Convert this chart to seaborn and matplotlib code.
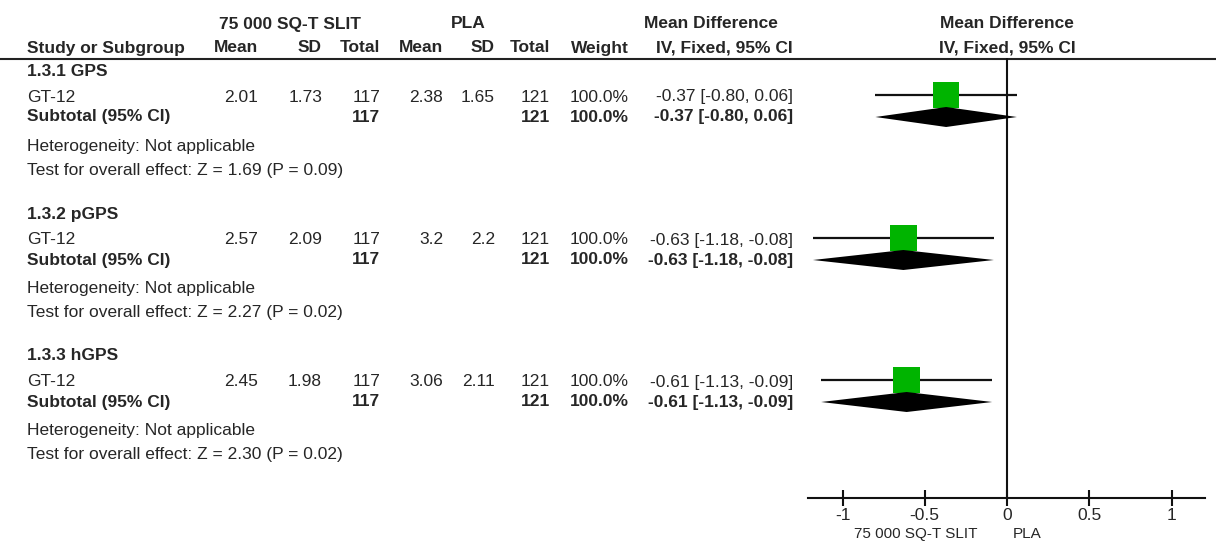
import matplotlib
matplotlib.use("Agg")
import matplotlib.pyplot as plt
import seaborn as sns
import pandas as pd

# ---------------- data ----------------
groups = ["1.3.1 GPS", "1.3.2 pGPS", "1.3.3 hGPS"]
studies = ["GT-12", "GT-12", "GT-12"]
t_mean = [2.01, 2.57, 2.45]
t_sd = [1.73, 2.09, 1.98]
t_total = [117, 117, 117]
c_mean = [2.38, 3.2, 3.06]
c_sd = [1.65, 2.2, 2.11]
c_total = [121, 121, 121]
weight = [100.0, 100.0, 100.0]
md = [-0.37, -0.63, -0.61]
ci_lo = [-0.80, -1.18, -1.13]
ci_hi = [0.06, -0.08, -0.09]
z_vals = [1.69, 2.27, 2.30]
p_vals = [0.09, 0.02, 0.02]
ticks = [-1, -0.5, 0, 0.5, 1]
tick_labels = ["-1", "-0.5", "0", "0.5", "1"]
treat_name = "75 000 SQ-T SLIT"
ctrl_name = "PLA"

# ---------------- layout ----------------
W, H = 1216, 545
FS = 12.5
TXT = "#262626"
GREEN = "#00B400"
FONT = ["Liberation Sans", "DejaVu Sans"]

sns.set_theme(style="white")
plt.rcParams["font.family"] = FONT

fig = plt.figure(figsize=(W / 100, H / 100), dpi=100)
tax = fig.add_axes([0, 0, 1, 1])
tax.set_xlim(0, W)
tax.set_ylim(H, 0)
tax.axis("off")

def t(x, y, s, ha="left", bold=False, size=FS, **kw):
    tax.text(x, y, s, ha=ha, va="center", fontsize=size, color=TXT,
             fontweight="bold" if bold else "normal", **kw)

# header
y1, y2 = 24, 48
t(290, y1, treat_name, ha="center", bold=True)
t(468, y1, ctrl_name, ha="center", bold=True)
t(711, y1, "Mean Difference", ha="center", bold=True)
t(1007, y1, "Mean Difference", ha="center", bold=True)
t(27, y2, "Study or Subgroup", bold=True)
col_r = {"tm": 258, "tsd": 322, "tt": 380, "cm": 443, "csd": 495,
         "ct": 550, "w": 629, "ci": 793}
t(col_r["tm"], y2, "Mean", ha="right", bold=True)
t(col_r["tsd"], y2, "SD", ha="right", bold=True)
t(col_r["tt"], y2, "Total", ha="right", bold=True)
t(col_r["cm"], y2, "Mean", ha="right", bold=True)
t(col_r["csd"], y2, "SD", ha="right", bold=True)
t(col_r["ct"], y2, "Total", ha="right", bold=True)
t(col_r["w"], y2, "Weight", ha="right", bold=True)
t(col_r["ci"], y2, "IV, Fixed, 95% CI", ha="right", bold=True)
t(1007, y2, "IV, Fixed, 95% CI", ha="center", bold=True)
tax.axhline(59, color="#222222", lw=1.5)

offsets = [0, 143, 285]
study_y, sub_y = [], []
for i, off in enumerate(offsets):
    yg, ys, ysub, yh, yt = 71 + off, 97 + off, 117 + off, 146 + off, 170 + off
    study_y.append(95 + off)
    sub_y.append(117 + off)
    ci_txt = f"{md[i]:.2f} [{ci_lo[i]:.2f}, {ci_hi[i]:.2f}]"
    t(27, yg, groups[i], bold=True)
    t(27, ys, studies[i])
    t(col_r["tm"], ys, f"{t_mean[i]:g}", ha="right")
    t(col_r["tsd"], ys, f"{t_sd[i]:g}", ha="right")
    t(col_r["tt"], ys, f"{t_total[i]}", ha="right")
    t(col_r["cm"], ys, f"{c_mean[i]:g}", ha="right")
    t(col_r["csd"], ys, f"{c_sd[i]:g}", ha="right")
    t(col_r["ct"], ys, f"{c_total[i]}", ha="right")
    t(col_r["w"], ys, f"{weight[i]:.1f}%", ha="right")
    t(col_r["ci"], ys, ci_txt, ha="right")
    t(27, ysub, "Subtotal (95% CI)", bold=True)
    t(col_r["tt"], ysub, f"{t_total[i]}", ha="right", bold=True)
    t(col_r["ct"], ysub, f"{c_total[i]}", ha="right", bold=True)
    t(col_r["w"], ysub, f"{weight[i]:.1f}%", ha="right", bold=True)
    t(col_r["ci"], ysub, ci_txt, ha="right", bold=True)
    t(27, yh, "Heterogeneity: Not applicable")
    t(27, yt, f"Test for overall effect: Z = {z_vals[i]:.2f} (P = {p_vals[i]:.2f})")

# ---------------- forest panel ----------------
px0, px1, py_top, py_bot = 808, 1205, 58, 498
zero_px, unit_px = 1007, 164.5
fax = fig.add_axes([px0 / W, (H - py_bot) / H, (px1 - px0) / W, (py_bot - py_top) / H])
fax.set_facecolor("none")
fax.set_xlim((px0 - zero_px) / unit_px, (px1 - zero_px) / unit_px)
fax.set_ylim(py_bot, py_top)
for s in ["top", "left", "right"]:
    fax.spines[s].set_visible(False)
fax.spines["bottom"].set_color("#111111")
fax.spines["bottom"].set_linewidth(1.5)
fax.set_yticks([])
fax.set_xticks(ticks)
fax.set_xticklabels(tick_labels)
fax.tick_params(axis="x", direction="inout", length=12, width=1.5, color="#111111",
                labelsize=FS, labelcolor=TXT, pad=1, bottom=True)
fax.axvline(0, color="#111111", lw=1.5, zorder=1)

df = pd.DataFrame({"md": md, "lo": ci_lo, "hi": ci_hi, "y": study_y, "ysub": sub_y})
fax.hlines(df["y"], df["lo"], df["hi"], color="#111111", lw=1.6, zorder=2)
sns.scatterplot(data=df, x="md", y="y", marker="s", s=360, color=GREEN,
                edgecolor="none", legend=False, ax=fax, zorder=3)
for _, r in df.iterrows():
    fax.fill([r["lo"], r["md"], r["hi"], r["md"]],
             [r["ysub"], r["ysub"] - 10, r["ysub"], r["ysub"] + 10],
             color="black", lw=0, zorder=4)
fax.set_xlabel("")
fax.set_ylabel("")

t(977, 534, treat_name, ha="right", size=11)
t(1013, 534, ctrl_name, ha="left", size=11)

fig.savefig("out.png", dpi=100, facecolor="white")
